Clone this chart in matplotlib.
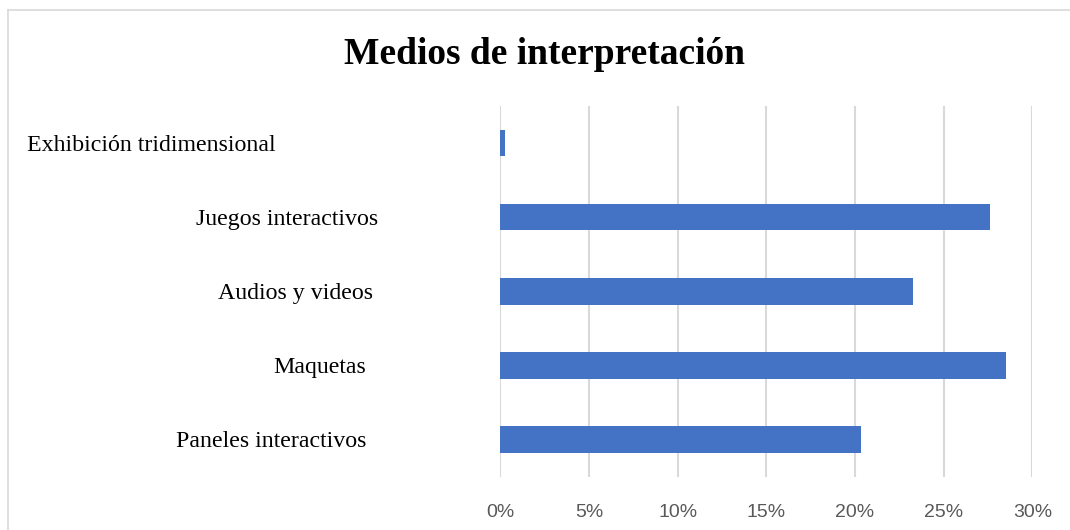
import numpy as np
import matplotlib.pyplot as plt
from matplotlib.transforms import blended_transform_factory
from matplotlib.ticker import FuncFormatter

# data, bottom to top as drawn
categories = ["Paneles interactivos", "Maquetas", "Audios y videos",
              "Juegos interactivos", "Exhibición tridimensional"]
values = [20.35, 28.5, 23.25, 27.6, 0.25]  # percent
ticks = [0, 5, 10, 15, 20, 25, 30]

# right edge (pixels) of each category label, as placed in the original
label_right_px = [366, 366, 373, 378, 276]

W, H = 1070, 530
fig = plt.figure(figsize=(W / 100, H / 100), dpi=100)
ax = fig.add_axes([500.3 / W, (H - 476.7) / H, 532 / W, 370.7 / H])

y = np.arange(len(categories))
ax.barh(y, values, height=0.356, color="#4472C4", zorder=3)

ax.set_xlim(0, 30)
ax.set_ylim(-0.5, len(categories) - 0.5)
ax.set_xticks(ticks)
ax.xaxis.set_major_formatter(FuncFormatter(lambda v, p: f"{v:.0f}%"))
ax.tick_params(axis="x", length=0, pad=20, labelsize=14, labelcolor="#595959")
for lab in ax.get_xticklabels():
    lab.set_family("Liberation Sans")
ax.set_yticks([])
ax.grid(axis="x", color="#d9d9d9", linewidth=1.5, zorder=0)
for s in ax.spines.values():
    s.set_visible(False)

tr = blended_transform_factory(fig.transFigure, ax.transData)
for yi, name, rx in zip(y, categories, label_right_px):
    ax.text(rx / W, yi - 0.03, name, transform=tr, ha="right", va="center",
            fontsize=17.2, family="Liberation Serif", color="black")

fig.text(545 / W, (H - 55) / H, "Medios de interpretación", ha="center", va="center",
         fontsize=27, fontweight="bold", family="Liberation Serif")

# light outer frame (top and left edges visible)
fig.add_artist(plt.Line2D([8 / W, 8 / W], [0, (H - 10) / H], transform=fig.transFigure,
                          color="#d9d9d9", linewidth=1.2))
fig.add_artist(plt.Line2D([8 / W, 1], [(H - 10) / H, (H - 10) / H], transform=fig.transFigure,
                          color="#d9d9d9", linewidth=1.2))

fig.savefig("out.png", dpi=100)
